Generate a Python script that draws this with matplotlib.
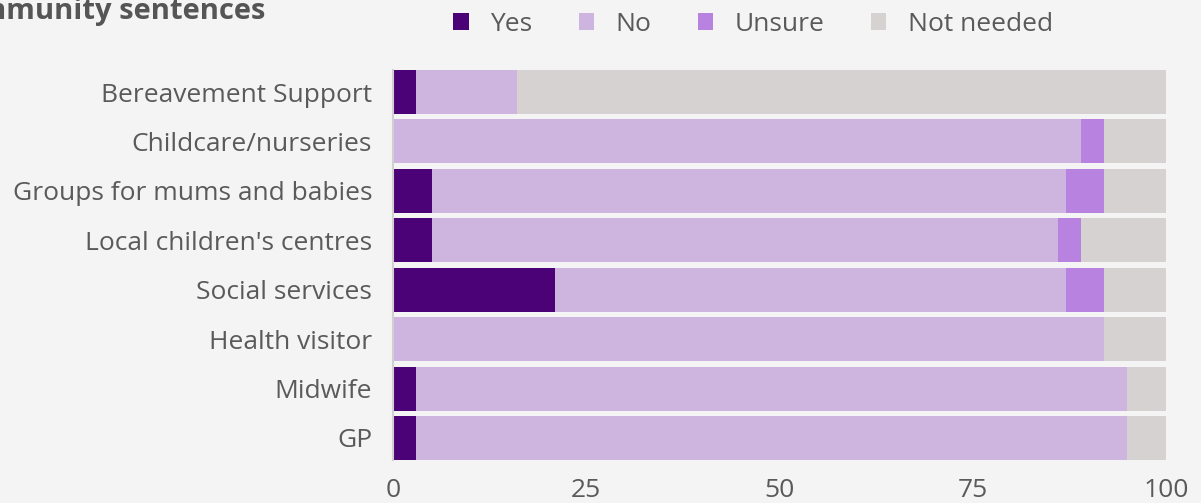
import matplotlib
matplotlib.use("Agg")
import matplotlib.pyplot as plt
from matplotlib.patches import Patch

plt.rcParams['font.family'] = ['Open Sans', 'DejaVu Sans']

categories = ["Bereavement Support", "Childcare/nurseries", "Groups for mums and babies",
              "Local children's centres", "Social services", "Health visitor", "Midwife", "GP"]
yes = [3, 0, 5, 5, 21, 0, 3, 3]
no = [13, 89, 82, 81, 66, 92, 92, 92]
unsure = [0, 3, 5, 3, 5, 0, 0, 0]
not_needed = [84, 8, 8, 11, 8, 8, 5, 5]

series_names = ["Yes", "No", "Unsure", "Not needed"]
series_values = [yes, no, unsure, not_needed]
colors = ["#4b0277", "#cdb5df", "#b883e0", "#d5d2d1"]

bg = "#f4f4f4"
text_color = "#5a5a5a"
fs = 19

fig = plt.figure(figsize=(12.01, 5.03), dpi=100, facecolor=bg)
ax = fig.add_axes([0.3272, 0.0855, 0.9709 - 0.3272, 0.8608 - 0.0855])
ax.set_facecolor(bg)

ypos = list(range(len(categories)))
left = [0] * len(categories)
for name, vals, col in zip(series_names, series_values, colors):
    ax.barh(ypos, vals, left=left, height=0.89, color=col, label=name, linewidth=0)
    left = [l + v for l, v in zip(left, vals)]

ax.set_xlim(0, 100)
ax.set_ylim(len(categories) - 0.555, -0.445)
ax.set_yticks(ypos)
ax.set_yticklabels(categories, fontsize=fs, color=text_color)
ax.set_xticks([0, 25, 50, 75, 100])
ax.set_xticklabels(["0", "25", "50", "75", "100"], fontsize=fs, color=text_color)
ax.tick_params(axis='both', length=0)
ax.tick_params(axis='y', pad=15)
ax.tick_params(axis='x', pad=13)
for side in ["top", "right", "bottom"]:
    ax.spines[side].set_visible(False)
ax.spines["left"].set_color("#d0d0d0")
ax.spines["left"].set_linewidth(1.5)

handles = [Patch(facecolor=c, edgecolor='none') for c in colors]
fig.legend(handles, series_names, loc='center', bbox_to_anchor=(0.627, 0.952), ncol=4,
           frameon=False, fontsize=fs, handlelength=0.6, handleheight=0.6,
           handletextpad=0.8, columnspacing=1.75, labelcolor=text_color)

fig.text(265 / 1201, 1 - 19 / 503, "Community sentences", ha='right', va='baseline',
         fontsize=21, fontweight='bold', color="#555555")

fig.savefig("out.png", dpi=100, facecolor=bg)
